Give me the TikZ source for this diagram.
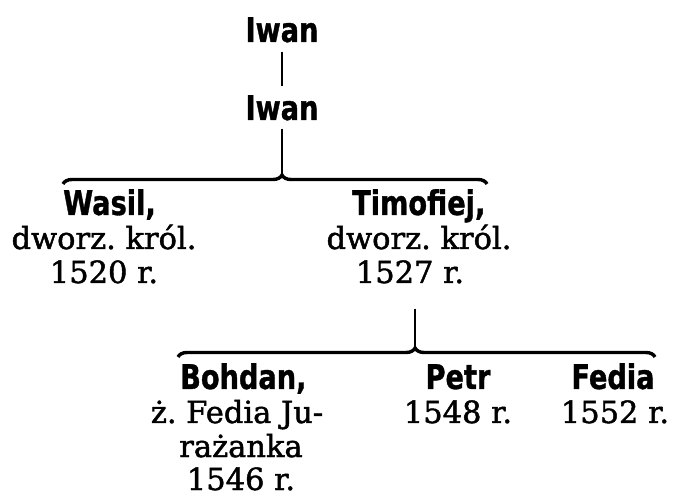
\documentclass[tikz,border=0pt]{standalone}
\usepackage{fontspec}
\setmainfont{DejaVu Serif}[FakeBold=1.5]
\newfontfamily\namefont{DejaVu Sans}[FakeStretch=0.8, FakeBold=1]
\usetikzlibrary{decorations.pathreplacing}
\frenchspacing
\tikzset{
  person/.style={font=\namefont\bfseries\fontsize{34}{34}\selectfont, inner sep=0pt},
  info/.style={font=\fontsize{30.5}{30.5}\selectfont, inner sep=0pt},
  link/.style={line width=1.3pt},
  bracket/.style={decorate, line width=3.4pt, decoration={brace, amplitude=9pt, aspect=#1}},
}
\begin{document}
\begin{tikzpicture}[x=1pt, y=-1pt]
\useasboundingbox (0,0) rectangle (673,497);
% ancestors
\node[person, anchor=base] (iwan1) at (282,42) {Iwan};
\node[person, anchor=base] (iwan2) at (282,120) {Iwan};
% first brace
\coordinate (b1l) at (63,184);
\coordinate (b1r) at (487,184);
\coordinate (b1tip) at (282,175);
% generation 2
\node[person, anchor=base west] (wasil) at (63,215) {Wasil,};
\node[info, anchor=base] (w1) at (104,249) {dworz. król.};
\node[info, anchor=base] (w2) at (104,283) {1520 r.};
\node[person, anchor=base west] (timo) at (352,215) {Timofiej,};
\node[info, anchor=base] (t1) at (419,249) {dworz. król.};
\node[info, anchor=base] (t2) at (410,283) {1527 r.};
% second brace
\coordinate (b2l) at (178,357);
\coordinate (b2r) at (655,357);
\coordinate (b2tip) at (415,348);
% generation 3
\node[person, anchor=base west] (bohdan) at (180,389) {Bohdan,};
\node[info, anchor=base] (bo1) at (237,423) {ż. Fedia Ju-};
\node[info, anchor=base] (bo2) at (241,457) {rażanka};
\node[info, anchor=base] (bo3) at (241,490) {1546 r.};
\node[person, anchor=base] (petr) at (458,389) {Petr};
\node[info, anchor=base] (pe1) at (458,423) {1548 r.};
\node[person, anchor=base] (fedia) at (613,389) {Fedia};
\node[info, anchor=base] (fe1) at (615,423) {1552 r.};
% connectors
\draw[link, shorten <=9pt, shorten >=9pt] (iwan1.south) -- (iwan2.north);
\draw[link, shorten <=8pt] (iwan2.south) -- (b1tip);
\draw[bracket=0.5165] (b1l) -- (b1r);
\draw[link, shorten <=25pt] (t2.south -| b2tip) -- (b2tip);
\draw[bracket=0.497] (b2l) -- (b2r);
\end{tikzpicture}
\end{document}
